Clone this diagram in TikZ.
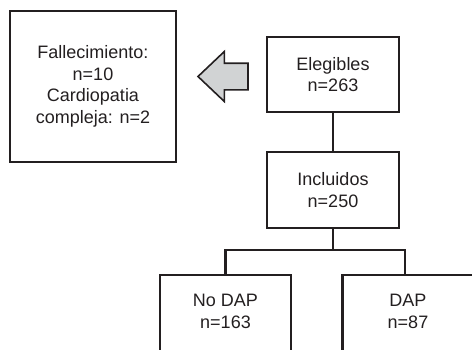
\documentclass[tikz,border=0pt]{standalone}
\usepackage{fontspec}
\setmainfont{Liberation Sans}
\usetikzlibrary{shapes.arrows}
\definecolor{ink}{HTML}{231F20}
\definecolor{arrowfill}{HTML}{D1D3D4}
\begin{document}
\begin{tikzpicture}[x=1pt,y=1pt,
  boxtext/.style={align=center, inner sep=0pt, outer sep=0pt, text=ink,
    font=\fontsize{18}{21.5}\selectfont},
  box/.style={boxtext, draw=ink, line width=2.2pt},
  boxline/.style={draw=ink, line width=2.2pt, line join=miter},
  conn/.style={draw=ink, line width=2.2pt},
  leftarrow/.style={single arrow, draw=ink, fill=arrowfill, line width=1.6pt,
    shape border rotate=180, inner sep=12.5pt, outer sep=0pt,
    single arrow head extend=11.75pt, single arrow tip angle=87,
    minimum height=50pt, line join=miter}]
\useasboundingbox (0,0) rectangle (472,-349);
\clip (0,0) rectangle (472,-349);

\node[box, minimum width=166, minimum height=151] (fall) at (93,-86.5)
  {Fallecimiento:\\n=10\\Cardiopatia\\compleja: n=2};
\node[box, minimum width=132, minimum height=75] (eleg) at (333,-74.5)
  {Elegibles\\n=263};
\node[box, minimum width=132, minimum height=76] (incl) at (333,-190)
  {Incluidos\\n=250};
\node[boxtext, minimum width=131, minimum height=73] (nodap) at (225.5,-311.5)
  {No DAP\\n=163};
\node[boxtext, minimum width=131, minimum height=73] (dap) at (408,-311.5)
  {DAP\\n=87};

% open-bottom boxes (cut by the picture edge)
\draw[boxline] ([yshift=-20]nodap.south west) |- (nodap.north east) -- ([yshift=-20]nodap.south east);
\draw[boxline] ([yshift=-20]dap.south west) |- (dap.north east) -- ([yshift=-20]dap.south east);

% arrow
\node[leftarrow, anchor=tip] (arr) at (198,-76.5) {};

% connectors
\draw[conn] (eleg.south) -- (incl.north);
\draw[conn] (incl.south) -- ++(0,-22) coordinate (split);
\draw[conn] (nodap.north) |- (split) -| ([xshift=-3]dap.north);
\end{tikzpicture}
\end{document}
